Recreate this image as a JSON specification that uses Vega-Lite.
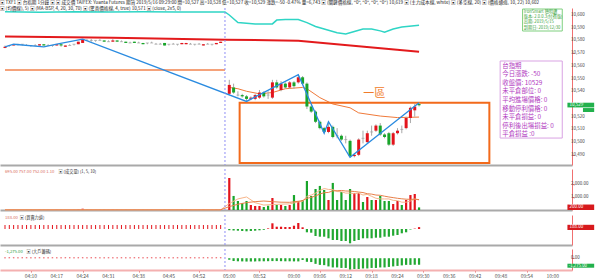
{
 "$schema": "https://vega.github.io/schema/vega-lite/v6.json",
 "padding": 0,
 "background": "white",
 "spacing": 2,
 "title": {"text": ["▣ TXF1 ▣ 台指期 1分鐘 ▣ ▣ 成交價 TAIFEX: Yuanta Futures 期貨 2019/5/16 09:29:00 開=10,527 高=10,528 低=10,527 收=10,529 漲跌=-50 -0.47% 量=6,743 ▣ (關鍵價格線, \"0\", \"0\", \"0\", \"0\") 10,619 ▣ (主力成本線, white) ▣ (多空線, 20) ▣ (價格通道, 10, 22) 10,602", "▣ (均價線), 5) ▣ (MA-BSP, 4, 20, 30, 70) ▣ (驚喜價格線, 4, true) 10,571 ▣ (close, 2x5, 0)"], "anchor": "start", "frame": "group", "fontSize": 4.6, "lineHeight": 5.5, "offset": -3, "color": "#222", "fontWeight": "normal"},
 "datasets": {
  "bars": [
   {"i":0,"o":10574,"h":10576,"l":10574,"c":10575,"v":8,"b":400,"d":150},
   {"i":1,"o":10576,"h":10576,"l":10575,"c":10576,"v":5,"b":400,"d":150},
   {"i":2,"o":10576,"h":10577,"l":10576,"c":10577,"v":6,"b":400,"d":150},
   {"i":3,"o":10577,"h":10577,"l":10576,"c":10577,"v":4,"b":400,"d":150},
   {"i":4,"o":10577,"h":10577,"l":10576,"c":10577,"v":3,"b":400,"d":150},
   {"i":5,"o":10576,"h":10577,"l":10576,"c":10576,"v":5,"b":400,"d":150},
   {"i":6,"o":10576,"h":10576,"l":10575,"c":10576,"v":7,"b":400,"d":150},
   {"i":7,"o":10576,"h":10577,"l":10576,"c":10576,"v":4,"b":400,"d":150},
   {"i":8,"o":10576,"h":10577,"l":10576,"c":10577,"v":12,"b":400,"d":150},
   {"i":9,"o":10577,"h":10577,"l":10576,"c":10576,"v":9,"b":400,"d":150},
   {"i":10,"o":10576,"h":10577,"l":10576,"c":10576,"v":5,"b":400,"d":150},
   {"i":11,"o":10576,"h":10576,"l":10575,"c":10576,"v":4,"b":400,"d":150},
   {"i":12,"o":10576,"h":10577,"l":10576,"c":10577,"v":10,"b":400,"d":150},
   {"i":13,"o":10577,"h":10577,"l":10575,"c":10576,"v":14,"b":400,"d":150},
   {"i":14,"o":10575,"h":10576,"l":10575,"c":10576,"v":8,"b":400,"d":150},
   {"i":15,"o":10576,"h":10577,"l":10576,"c":10576,"v":3,"b":400,"d":150},
   {"i":16,"o":10577,"h":10577,"l":10576,"c":10577,"v":6,"b":400,"d":150},
   {"i":17,"o":10577,"h":10579,"l":10577,"c":10579,"v":30,"b":400,"d":150},
   {"i":18,"o":10578,"h":10581,"l":10578,"c":10581,"v":100,"b":400,"d":150},
   {"i":19,"o":10580,"h":10581,"l":10580,"c":10580,"v":12,"b":400,"d":150},
   {"i":20,"o":10580,"h":10581,"l":10579,"c":10580,"v":6,"b":400,"d":150},
   {"i":21,"o":10580,"h":10580,"l":10579,"c":10580,"v":5,"b":400,"d":150},
   {"i":22,"o":10580,"h":10581,"l":10580,"c":10580,"v":7,"b":400,"d":150},
   {"i":23,"o":10580,"h":10580,"l":10579,"c":10579,"v":15,"b":400,"d":150},
   {"i":24,"o":10579,"h":10580,"l":10579,"c":10579,"v":6,"b":400,"d":150},
   {"i":25,"o":10579,"h":10581,"l":10579,"c":10580,"v":18,"b":400,"d":150},
   {"i":26,"o":10580,"h":10580,"l":10579,"c":10579,"v":12,"b":400,"d":150},
   {"i":27,"o":10579,"h":10580,"l":10579,"c":10579,"v":5,"b":400,"d":150},
   {"i":28,"o":10579,"h":10579,"l":10578,"c":10578,"v":9,"b":400,"d":150},
   {"i":29,"o":10578,"h":10579,"l":10578,"c":10578,"v":4,"b":400,"d":150},
   {"i":30,"o":10579,"h":10579,"l":10578,"c":10578,"v":11,"b":400,"d":150},
   {"i":31,"o":10578,"h":10579,"l":10578,"c":10578,"v":5,"b":400,"d":150},
   {"i":32,"o":10578,"h":10578,"l":10577,"c":10577,"v":9,"b":400,"d":150},
   {"i":33,"o":10578,"h":10578,"l":10577,"c":10578,"v":5,"b":400,"d":150},
   {"i":34,"o":10578,"h":10579,"l":10578,"c":10578,"v":6,"b":400,"d":150},
   {"i":35,"o":10577,"h":10578,"l":10577,"c":10577,"v":4,"b":400,"d":150},
   {"i":36,"o":10577,"h":10578,"l":10577,"c":10577,"v":3,"b":400,"d":150},
   {"i":37,"o":10578,"h":10578,"l":10576,"c":10576,"v":14,"b":400,"d":150},
   {"i":38,"o":10577,"h":10577,"l":10576,"c":10577,"v":5,"b":400,"d":150},
   {"i":39,"o":10577,"h":10578,"l":10577,"c":10577,"v":4,"b":400,"d":150},
   {"i":40,"o":10577,"h":10577,"l":10576,"c":10577,"v":6,"b":400,"d":150},
   {"i":41,"o":10577,"h":10578,"l":10577,"c":10578,"v":20,"b":400,"d":150},
   {"i":42,"o":10577,"h":10578,"l":10577,"c":10578,"v":15,"b":400,"d":150},
   {"i":43,"o":10577,"h":10578,"l":10577,"c":10577,"v":5,"b":400,"d":150},
   {"i":44,"o":10577,"h":10577,"l":10576,"c":10577,"v":4,"b":400,"d":150},
   {"i":45,"o":10577,"h":10578,"l":10577,"c":10577,"v":6,"b":400,"d":150},
   {"i":46,"o":10576,"h":10577,"l":10576,"c":10577,"v":25,"b":400,"d":150},
   {"i":47,"o":10577,"h":10578,"l":10577,"c":10577,"v":7,"b":400,"d":150},
   {"i":48,"o":10577,"h":10577,"l":10576,"c":10577,"v":6,"b":400,"d":150},
   {"i":49,"o":10577,"h":10578,"l":10577,"c":10578,"v":18,"b":400,"d":150},
   {"i":50,"o":10578,"h":10579,"l":10578,"c":10579,"v":30,"b":400,"d":150},
   {"i":52,"o":10538,"h":10549,"l":10537,"c":10545,"v":2460,"b":-120,"d":-300},
   {"i":53,"o":10543,"h":10546,"l":10538,"c":10539,"v":1080,"b":-150,"d":-550},
   {"i":54,"o":10537,"h":10540,"l":10536,"c":10537,"v":690,"b":-170,"d":-600},
   {"i":55,"o":10537,"h":10538,"l":10535,"c":10536,"v":540,"b":-200,"d":-620},
   {"i":56,"o":10536,"h":10537,"l":10532,"c":10534,"v":690,"b":-230,"d":-650},
   {"i":57,"o":10534,"h":10536,"l":10533,"c":10535,"v":385,"b":-200,"d":-640},
   {"i":58,"o":10534,"h":10538,"l":10533,"c":10537,"v":310,"b":-170,"d":-620},
   {"i":59,"o":10535,"h":10541,"l":10534,"c":10539,"v":310,"b":-130,"d":-600},
   {"i":60,"o":10539,"h":10540,"l":10535,"c":10536,"v":230,"b":-80,"d":-600},
   {"i":61,"o":10537,"h":10540,"l":10534,"c":10537,"v":330,"b":60,"d":-580},
   {"i":62,"o":10535,"h":10549,"l":10534,"c":10547,"v":920,"b":570,"d":-560},
   {"i":63,"o":10547,"h":10549,"l":10542,"c":10543,"v":385,"b":230,"d":-560},
   {"i":64,"o":10541,"h":10548,"l":10540,"c":10546,"v":385,"b":230,"d":-580},
   {"i":65,"o":10546,"h":10547,"l":10542,"c":10543,"v":310,"b":200,"d":-600},
   {"i":66,"o":10543,"h":10548,"l":10542,"c":10547,"v":385,"b":200,"d":-600},
   {"i":67,"o":10547,"h":10548,"l":10542,"c":10544,"v":1150,"b":330,"d":-620},
   {"i":68,"o":10547,"h":10553,"l":10546,"c":10551,"v":690,"b":600,"d":-620},
   {"i":69,"o":10551,"h":10552,"l":10545,"c":10546,"v":770,"b":170,"d":-350},
   {"i":70,"o":10546,"h":10547,"l":10526,"c":10528,"v":2230,"b":-330,"d":-700},
   {"i":71,"o":10528,"h":10529,"l":10523,"c":10524,"v":1080,"b":-370,"d":-750},
   {"i":72,"o":10524,"h":10525,"l":10515,"c":10516,"v":1615,"b":-700,"d":-1100},
   {"i":73,"o":10516,"h":10517,"l":10510,"c":10511,"v":1850,"b":-770,"d":-1300},
   {"i":74,"o":10511,"h":10512,"l":10507,"c":10508,"v":1540,"b":-770,"d":-1350},
   {"i":75,"o":10508,"h":10516,"l":10507,"c":10512,"v":770,"b":-930,"d":-1600},
   {"i":76,"o":10512,"h":10513,"l":10503,"c":10504,"v":2080,"b":-1100,"d":-1800},
   {"i":77,"o":10505,"h":10511,"l":10503,"c":10505,"v":770,"b":-1100,"d":-1800},
   {"i":78,"o":10505,"h":10506,"l":10501,"c":10502,"v":1385,"b":-1200,"d":-1900},
   {"i":79,"o":10502,"h":10505,"l":10499,"c":10502,"v":770,"b":-1200,"d":-1900},
   {"i":80,"o":10501,"h":10502,"l":10488,"c":10489,"v":1615,"b":-1430,"d":-2200},
   {"i":81,"o":10489,"h":10491,"l":10488,"c":10490,"v":1310,"b":-1200,"d":-2100},
   {"i":82,"o":10490,"h":10503,"l":10489,"c":10502,"v":1310,"b":-1100,"d":-2100},
   {"i":83,"o":10503,"h":10509,"l":10499,"c":10503,"v":615,"b":-930,"d":-2000},
   {"i":84,"o":10500,"h":10509,"l":10499,"c":10507,"v":1000,"b":-930,"d":-2000},
   {"i":85,"o":10508,"h":10513,"l":10505,"c":10508,"v":770,"b":-930,"d":-1900},
   {"i":86,"o":10509,"h":10514,"l":10508,"c":10513,"v":770,"b":-870,"d":-1900},
   {"i":87,"o":10513,"h":10515,"l":10505,"c":10506,"v":1080,"b":-870,"d":-1800},
   {"i":88,"o":10506,"h":10507,"l":10503,"c":10504,"v":690,"b":-770,"d":-1800},
   {"i":89,"o":10507,"h":10508,"l":10497,"c":10498,"v":690,"b":-770,"d":-1700},
   {"i":90,"o":10498,"h":10508,"l":10497,"c":10507,"v":460,"b":-670,"d":-1600},
   {"i":91,"o":10507,"h":10511,"l":10506,"c":10509,"v":690,"b":-600,"d":-1500},
   {"i":92,"o":10510,"h":10513,"l":10507,"c":10510,"v":385,"b":-430,"d":-1400},
   {"i":93,"o":10511,"h":10520,"l":10510,"c":10519,"v":770,"b":-330,"d":-1300},
   {"i":94,"o":10519,"h":10528,"l":10515,"c":10527,"v":1150,"b":-50,"d":-1300},
   {"i":95,"o":10525,"h":10530,"l":10520,"c":10528,"v":1230,"b":40,"d":-1275},
   {"i":96,"o":10530,"h":10531,"l":10528,"c":10529,"v":200,"b":188,"d":-1275}
  ],
  "zig": [
   {"i":0,"p":10575},{"i":2,"p":10577},{"i":9,"p":10575},{"i":12,"p":10577},{"i":18,"p":10581},
   {"i":56,"p":10532},{"i":68,"p":10553},{"i":74,"p":10507},{"i":75,"p":10516},{"i":80,"p":10488},{"i":96,"p":10531}
  ],
  "redl": [
   {"i":0,"p":10583},{"i":25,"p":10582},{"i":51,"p":10580.6},{"i":68,"p":10579.8},{"i":82,"p":10575.5},{"i":96,"p":10571}
  ],
  "cyan": [
   {"i":0,"p":10602.5},{"i":8,"p":10602.2},{"i":16,"p":10602.6},{"i":24,"p":10602.3},{"i":32,"p":10602.6},{"i":40,"p":10602.4},{"i":51,"p":10602.4},
   {"i":52,"p":10600},{"i":54,"p":10594},{"i":56,"p":10593.5},{"i":58,"p":10593},{"i":60,"p":10593},{"i":62,"p":10593},{"i":63,"p":10596},{"i":65,"p":10596.5},{"i":68,"p":10596.5},{"i":70,"p":10594},{"i":72,"p":10591},{"i":75,"p":10588},{"i":77,"p":10586},{"i":79,"p":10585},{"i":81,"p":10587},{"i":83,"p":10589},{"i":85,"p":10589},{"i":87,"p":10587.5},{"i":88,"p":10586.5},{"i":90,"p":10589},{"i":92,"p":10590.5},{"i":96,"p":10592}
  ],
  "orn": [{"i":0,"p":10556.7},{"i":51,"p":10556.7}],
  "ord": [
   {"i":52,"p":10543},{"i":54,"p":10542},{"i":56,"p":10540},{"i":59,"p":10538},{"i":62,"p":10539},{"i":65,"p":10542},{"i":69,"p":10543},{"i":70,"p":10542},{"i":73,"p":10535},{"i":76,"p":10530},{"i":80,"p":10527},{"i":82,"p":10523},{"i":87,"p":10520.5},{"i":91,"p":10519.3},{"i":96,"p":10519.7}
  ],
  "vma": [
   {"i":0,"a":15,"m":15},{"i":50,"a":15,"m":15},
   {"i":52,"a":500,"m":260},{"i":54,"a":850,"m":440},{"i":56,"a":1000,"m":570},{"i":58,"a":560,"m":640},{"i":60,"a":380,"m":690},{"i":62,"a":420,"m":640},{"i":64,"a":450,"m":600},{"i":66,"a":470,"m":590},{"i":68,"a":620,"m":670},{"i":69,"a":660,"m":720},{"i":70,"a":1050,"m":900},{"i":71,"a":1150,"m":970},{"i":72,"a":1300,"m":1080},{"i":73,"a":1500,"m":1230},{"i":74,"a":1650,"m":1330},{"i":75,"a":1580,"m":1350},{"i":76,"a":1570,"m":1470},{"i":77,"a":1420,"m":1480},{"i":78,"a":1400,"m":1500},{"i":79,"a":1300,"m":1460},{"i":80,"a":1300,"m":1450},{"i":81,"a":1250,"m":1420},{"i":82,"a":1300,"m":1380},{"i":83,"a":1150,"m":1340},{"i":84,"a":1200,"m":1250},{"i":85,"a":1050,"m":1220},{"i":86,"a":900,"m":1150},{"i":87,"a":850,"m":1130},{"i":88,"a":850,"m":1060},{"i":89,"a":850,"m":1000},{"i":90,"a":740,"m":950},{"i":91,"a":720,"m":900},{"i":92,"a":600,"m":860},{"i":93,"a":600,"m":830},{"i":94,"a":690,"m":820},{"i":95,"a":850,"m":830},{"i":96,"a":770,"m":800}
  ],
  "ptick": [{"p":10490},{"p":10500},{"p":10510},{"p":10520},{"p":10540},{"p":10550},{"p":10560},{"p":10570},{"p":10580},{"p":10590},{"p":10600}],
  "vtick": [{"v":1000},{"v":2000}],
  "xtick": [
   {"i":6,"t":"04:10"},{"i":12,"t":"04:17"},{"i":18,"t":"04:24"},{"i":24,"t":"04:31"},{"i":31,"t":"04:38"},{"i":38,"t":"04:45"},{"i":45,"t":"04:52"},{"i":52,"t":"05:00"},{"i":59,"t":"08:52"},{"i":67,"t":"09:00"},{"i":73,"t":"09:06"},{"i":79,"t":"09:12"},{"i":85,"t":"09:18"},{"i":91,"t":"09:24"},{"i":97,"t":"09:30"},{"i":103,"t":"09:36"},{"i":109,"t":"09:42"},{"i":115,"t":"09:48"},{"i":121,"t":"09:54"},{"i":127,"t":"10:00"}
  ]
 },
 "vconcat": [
  {
   "width": 572, "height": 157,
   "data": {"name": "bars"},
   "layer": [
    {"data": {"name": "cyan"}, "mark": {"type": "line", "color": "#2fd5c5", "strokeWidth": 1.5},
     "encoding": {
      "x": {"field": "i", "type": "quantitative", "title": null, "scale": {"domain": [0, 130.3], "nice": false, "zero": false}, "axis": {"labels": false, "ticks": false, "domainColor": "#a9a9a9", "domainWidth": 2, "grid": false, "title": null, "maxExtent": 0, "minExtent": 0}},
      "y": {"field": "p", "type": "quantitative", "title": null, "scale": {"domain": [10482, 10605.5], "nice": false, "zero": false}, "axis": {"orient": "right", "values": [10490,10500,10510,10520,10530,10540,10550,10560,10570,10580,10590,10600], "labels": false, "tickSize": 2, "tickColor": "#f07070", "domainColor": "#f07070", "grid": false, "title": null, "minExtent": 28, "maxExtent": 28}}
     }},
    {"data": {"name": "redl"}, "mark": {"type": "line", "color": "#e31a1c", "strokeWidth": 2},
     "encoding": {"x": {"field": "i", "type": "quantitative", "title": null}, "y": {"field": "p", "type": "quantitative", "title": null}}},
    {"data": {"name": "orn"}, "mark": {"type": "line", "color": "#f5a27a", "strokeWidth": 2},
     "encoding": {"x": {"field": "i", "type": "quantitative", "title": null}, "y": {"field": "p", "type": "quantitative", "title": null}}},
    {"data": {"name": "ord"}, "mark": {"type": "line", "color": "#f07a3a", "strokeWidth": 1},
     "encoding": {"x": {"field": "i", "type": "quantitative", "title": null}, "y": {"field": "p", "type": "quantitative", "title": null}}},
    {"data": {"values": [{}]}, "mark": {"type": "rect", "filled": false, "color": "#f26a1b", "strokeWidth": 2},
     "encoding": {"x": {"datum": 54.4, "type": "quantitative"}, "x2": {"datum": 112.3}, "y": {"datum": 10531, "type": "quantitative"}, "y2": {"datum": 10483.5}}},
    {"mark": {"type": "rule", "color": "#a8a8a8", "strokeWidth": 1},
     "encoding": {"x": {"field": "i", "type": "quantitative", "title": null}, "y": {"field": "l", "type": "quantitative", "title": null}, "y2": {"field": "h"}}},
    {"mark": {"type": "bar", "size": 3},
     "encoding": {"x": {"field": "i", "type": "quantitative", "title": null}, "y": {"field": "o", "type": "quantitative", "title": null}, "y2": {"field": "c"},
      "color": {"condition": [{"test": "datum.c > datum.o", "value": "#e3141c"}, {"test": "datum.c < datum.o", "value": "#18a52a"}], "value": "#b0b0b0"}}},
    {"transform": [{"filter": "datum.o == datum.c"}], "mark": {"type": "tick", "orient": "horizontal", "thickness": 1, "size": 3, "color": "#a0a0a0"},
     "encoding": {"x": {"field": "i", "type": "quantitative", "title": null}, "y": {"field": "c", "type": "quantitative", "title": null}}},
    {"data": {"name": "zig"}, "mark": {"type": "line", "color": "#2a8be0", "strokeWidth": 1.3},
     "encoding": {"x": {"field": "i", "type": "quantitative", "title": null}, "y": {"field": "p", "type": "quantitative", "title": null}}},
    {"data": {"values": [{}]}, "mark": {"type": "rule", "color": "#8f8ff5", "strokeDash": [2, 2], "strokeWidth": 1},
     "encoding": {"x": {"datum": 51, "type": "quantitative"}}},
    {"data": {"values": [{}]}, "mark": {"type": "text", "text": "一區", "fontSize": 11, "color": "#f07b2a", "align": "center", "baseline": "middle"},
     "encoding": {"x": {"datum": 85.6, "type": "quantitative"}, "y": {"datum": 10537.5, "type": "quantitative"}}},
    {"data": {"values": [{}]}, "mark": {"type": "rect", "fill": "white", "stroke": "#7fcf7f", "strokeWidth": 1},
     "encoding": {"x": {"datum": 120, "type": "quantitative"}, "x2": {"datum": 129.2}, "y": {"datum": 10604.7, "type": "quantitative"}, "y2": {"datum": 10587.4}}},
    {"data": {"values": [{}]}, "mark": {"type": "text", "fontSize": 4.2, "lineHeight": 5.2, "color": "#3aa33a", "align": "left", "baseline": "top"},
     "encoding": {"x": {"datum": 120.3, "type": "quantitative"}, "y": {"datum": 10604, "type": "quantitative"}, "text": {"value": ["IronSmart 聰明鑽", "版本: 2.0.0.3(付費版)", "出期: 2019/5/15", "到期日: 2019/12/30"]}}},
    {"data": {"values": [{}]}, "mark": {"type": "rect", "fill": "white", "stroke": "#d9a3e3", "strokeWidth": 1},
     "encoding": {"x": {"datum": 114.8, "type": "quantitative"}, "x2": {"datum": 129.2}, "y": {"datum": 10563.8, "type": "quantitative"}, "y2": {"datum": 10503.2}}},
    {"data": {"values": [{}]}, "mark": {"type": "text", "fontSize": 6.4, "lineHeight": 8.6, "color": "#b23bbf", "align": "left", "baseline": "top"},
     "encoding": {"x": {"datum": 115.3, "type": "quantitative"}, "y": {"datum": 10562.6, "type": "quantitative"}, "text": {"value": ["台指期", "今日漲跌: -50", "收盤價: 10529", "未平倉部位: 0", "平均進場價格: 0", "移動停利價格: 0", "未平倉損益: 0", "停利後出場損益: 0", "平倉損益 :0"]}}},
    {"data": {"name": "ptick"}, "mark": {"type": "text", "fontSize": 4.5, "color": "#444", "align": "left", "baseline": "middle", "dx": 4},
     "encoding": {"x": {"datum": 130.3, "type": "quantitative"}, "y": {"field": "p", "type": "quantitative", "title": null}, "text": {"field": "p", "type": "quantitative", "format": ",.0f"}}},
    {"data": {"values": [{}]}, "mark": {"type": "rect", "color": "#22b14c"},
     "encoding": {"x": {"datum": 130.4, "type": "quantitative"}, "x2": {"datum": 136.6}, "y": {"datum": 10527.3, "type": "quantitative"}, "y2": {"datum": 10531}}},
    {"data": {"values": [{}]}, "mark": {"type": "rect", "color": "#22b14c"},
     "encoding": {"x": {"datum": 134, "type": "quantitative"}, "x2": {"datum": 136.6}, "y": {"datum": 10523.7, "type": "quantitative"}, "y2": {"datum": 10526.8}}},
    {"data": {"values": [{}]}, "mark": {"type": "text", "text": "10,529", "fontSize": 4.5, "color": "white", "align": "left", "baseline": "middle"},
     "encoding": {"x": {"datum": 130.9, "type": "quantitative"}, "y": {"datum": 10529.2, "type": "quantitative"}}}
   ]
  },
  {
   "width": 572, "height": 41,
   "data": {"name": "bars"},
   "layer": [
    {"mark": {"type": "bar", "size": 2.2},
     "encoding": {
      "x": {"field": "i", "type": "quantitative", "title": null, "scale": {"domain": [0, 130.3], "nice": false, "zero": false}, "axis": {"labels": false, "ticks": false, "domainColor": "#a9a9a9", "domainWidth": 2, "grid": false, "title": null, "maxExtent": 0, "minExtent": 0}},
      "y": {"field": "v", "type": "quantitative", "title": null, "scale": {"domain": [0, 3150], "nice": false}, "axis": {"orient": "right", "values": [1000, 2000], "labels": false, "tickSize": 2, "tickColor": "#f07070", "domainColor": "#f07070", "grid": false, "title": null, "minExtent": 28, "maxExtent": 28}},
      "color": {"condition": {"test": "datum.c > datum.o", "value": "#e3141c"}, "value": "#18a52a"}
     }},
    {"data": {"name": "vma"}, "mark": {"type": "line", "color": "#f7b58a", "strokeWidth": 1},
     "encoding": {"x": {"field": "i", "type": "quantitative", "title": null}, "y": {"field": "a", "type": "quantitative", "title": null}}},
    {"data": {"name": "vma"}, "mark": {"type": "line", "color": "#e8804a", "strokeWidth": 1},
     "encoding": {"x": {"field": "i", "type": "quantitative", "title": null}, "y": {"field": "m", "type": "quantitative", "title": null}}},
    {"data": {"values": [{}]}, "mark": {"type": "rule", "color": "#8f8ff5", "strokeDash": [2, 2], "strokeWidth": 1},
     "encoding": {"x": {"datum": 51, "type": "quantitative"}}},
    {"data": {"values": [{}]}, "mark": {"type": "text", "text": "695.00 757.00 752.00 1.10", "fontSize": 4.2, "color": "#d86a5a", "align": "left", "baseline": "top", "dy": 1},
     "encoding": {"x": {"datum": 0, "type": "quantitative"}, "y": {"datum": 3150, "type": "quantitative"}}},
    {"data": {"values": [{}]}, "mark": {"type": "text", "text": "▣ (成交量) (1, 5, 10)", "fontSize": 4.2, "color": "#333", "align": "left", "baseline": "top", "dy": 1},
     "encoding": {"x": {"datum": 12.4, "type": "quantitative"}, "y": {"datum": 3150, "type": "quantitative"}}},
    {"data": {"name": "vtick"}, "mark": {"type": "text", "fontSize": 4.5, "color": "#444", "align": "left", "baseline": "middle", "dx": 4},
     "encoding": {"x": {"datum": 130.3, "type": "quantitative"}, "y": {"field": "v", "type": "quantitative", "title": null}, "text": {"field": "v", "type": "quantitative", "format": ",.2f"}}},
    {"data": {"values": [{}]}, "mark": {"type": "rect", "color": "#d7191c"},
     "encoding": {"x": {"datum": 130.4, "type": "quantitative"}, "x2": {"datum": 136.6}, "y": {"datum": 0, "type": "quantitative"}, "y2": {"datum": 420}}},
    {"data": {"values": [{}]}, "mark": {"type": "text", "text": "200.00", "fontSize": 4.5, "color": "white", "align": "left", "baseline": "middle"},
     "encoding": {"x": {"datum": 130.9, "type": "quantitative"}, "y": {"datum": 210, "type": "quantitative"}}}
   ]
  },
  {
   "width": 572, "height": 30,
   "data": {"name": "bars"},
   "layer": [
    {"mark": {"type": "bar"},
     "encoding": {
      "x": {"field": "i", "type": "quantitative", "title": null, "scale": {"domain": [0, 130.3], "nice": false, "zero": false}, "axis": {"labels": false, "ticks": false, "domainColor": "#a9a9a9", "domainWidth": 2, "grid": false, "title": null, "maxExtent": 0, "minExtent": 0}},
      "y": {"field": "b", "type": "quantitative", "title": null, "scale": {"domain": [-1600, 1400], "nice": false}, "axis": {"orient": "right", "values": [], "labels": false, "tickColor": "#f07070", "domainColor": "#f07070", "grid": false, "title": null, "minExtent": 28, "maxExtent": 28}},
      "y2": {"datum": 0},
      "size": {"condition": {"test": "datum.i < 51", "value": 1}, "value": 2.2},
      "color": {"condition": {"test": "datum.b > 0", "value": "#e3141c"}, "value": "#22a832"}
     }},
    {"data": {"values": [{}]}, "mark": {"type": "rule", "color": "#8f8ff5", "strokeDash": [2, 2], "strokeWidth": 1},
     "encoding": {"x": {"datum": 51, "type": "quantitative"}}},
    {"data": {"values": [{}]}, "mark": {"type": "text", "text": "188.00", "fontSize": 4.2, "color": "#d86a5a", "align": "left", "baseline": "top", "dy": 1},
     "encoding": {"x": {"datum": 0, "type": "quantitative"}, "y": {"datum": 1400, "type": "quantitative"}}},
    {"data": {"values": [{}]}, "mark": {"type": "text", "text": "▣ (買賣力道)", "fontSize": 4.2, "color": "#333", "align": "left", "baseline": "top", "dy": 1},
     "encoding": {"x": {"datum": 3.4, "type": "quantitative"}, "y": {"datum": 1400, "type": "quantitative"}}},
    {"data": {"values": [{}]}, "mark": {"type": "rect", "color": "#d7191c"},
     "encoding": {"x": {"datum": 130.4, "type": "quantitative"}, "x2": {"datum": 136.6}, "y": {"datum": -100, "type": "quantitative"}, "y2": {"datum": 420}}},
    {"data": {"values": [{}]}, "mark": {"type": "text", "text": "188.00", "fontSize": 4.5, "color": "white", "align": "left", "baseline": "middle"},
     "encoding": {"x": {"datum": 130.9, "type": "quantitative"}, "y": {"datum": 160, "type": "quantitative"}}}
   ]
  },
  {
   "width": 572, "height": 21,
   "data": {"name": "bars"},
   "layer": [
    {"mark": {"type": "bar"},
     "encoding": {
      "x": {"field": "i", "type": "quantitative", "title": null, "scale": {"domain": [0, 130.3], "nice": false, "zero": false},
       "axis": {"values": [6,12,18,24,31,38,45,52,59,67,73,79,85,91,97,103,109,115,121,127], "labels": false, "tickSize": 2, "tickColor": "#e07070", "domainColor": "#f4b0b0", "domainWidth": 2, "grid": false, "title": null, "minExtent": 2, "maxExtent": 2}},
      "y": {"field": "d", "type": "quantitative", "title": null, "scale": {"domain": [-2300, 1800], "nice": false}, "axis": {"orient": "right", "values": [0], "labels": false, "tickSize": 2, "tickColor": "#f07070", "domainColor": "#f07070", "grid": false, "title": null, "minExtent": 28, "maxExtent": 28}},
      "y2": {"datum": 0},
      "size": {"condition": {"test": "datum.i < 51", "value": 1.5}, "value": 2.2},
      "color": {"condition": {"test": "datum.d > 0", "value": "#e3141c"}, "value": "#22a832"}
     }},
    {"data": {"values": [{}]}, "mark": {"type": "rule", "color": "#8f8ff5", "strokeDash": [2, 2], "strokeWidth": 1},
     "encoding": {"x": {"datum": 51, "type": "quantitative"}}},
    {"data": {"values": [{}]}, "mark": {"type": "text", "text": "-1,275.00", "fontSize": 4.2, "color": "#2a9a3a", "align": "left", "baseline": "top", "dy": 0.5},
     "encoding": {"x": {"datum": 0, "type": "quantitative"}, "y": {"datum": 1800, "type": "quantitative"}}},
    {"data": {"values": [{}]}, "mark": {"type": "text", "text": "▣ (大戶籌碼)", "fontSize": 4.2, "color": "#333", "align": "left", "baseline": "top", "dy": 0.5},
     "encoding": {"x": {"datum": 5, "type": "quantitative"}, "y": {"datum": 1800, "type": "quantitative"}}},
    {"data": {"values": [{}]}, "mark": {"type": "text", "text": "0.00", "fontSize": 4.5, "color": "#444", "align": "left", "baseline": "middle", "dx": 4},
     "encoding": {"x": {"datum": 130.3, "type": "quantitative"}, "y": {"datum": 0, "type": "quantitative"}}},
    {"data": {"values": [{}]}, "mark": {"type": "rect", "color": "#22b14c"},
     "encoding": {"x": {"datum": 130.4, "type": "quantitative"}, "x2": {"datum": 136.6}, "y": {"datum": -1072, "type": "quantitative"}, "y2": {"datum": -1853}}},
    {"data": {"values": [{}]}, "mark": {"type": "text", "text": "-1,275.00", "fontSize": 4.3, "color": "white", "align": "left", "baseline": "middle"},
     "encoding": {"x": {"datum": 130.7, "type": "quantitative"}, "y": {"datum": -1460, "type": "quantitative"}}},
    {"data": {"name": "xtick"}, "mark": {"type": "text", "fontSize": 5, "color": "#555", "align": "center", "baseline": "middle", "dy": 5.5},
     "encoding": {"x": {"field": "i", "type": "quantitative", "title": null}, "y": {"datum": -2300, "type": "quantitative"}, "text": {"field": "t", "type": "nominal"}}}
   ]
  }
 ],
 "config": {"view": {"stroke": null}, "font": "Noto Sans CJK TC", "axis": {"grid": false, "labelOverlap": false}}
}
